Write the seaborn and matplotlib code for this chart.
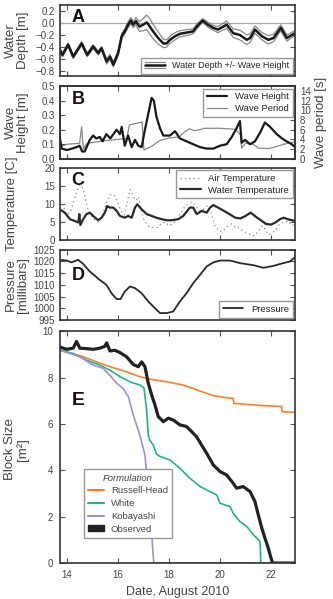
import numpy as np
import pandas as pd
import matplotlib
matplotlib.use("Agg")
import matplotlib.pyplot as plt
from matplotlib.lines import Line2D
from matplotlib.patches import Patch
from matplotlib.legend_handler import HandlerBase
import seaborn as sns

# ---------------- data (days in August 2010) ----------------
days_depth = [13.73, 13.83, 14.05, 14.25, 14.58, 14.80, 15.03, 15.23, 15.36, 15.56,
              15.69, 15.82, 16.01, 16.15, 16.27, 16.40, 16.51, 16.60, 16.71, 16.84,
              16.99, 17.13, 17.25, 17.38, 17.58, 17.78, 17.91, 18.04, 18.24, 18.43,
              18.69, 18.95, 19.09, 19.32, 19.53, 19.73, 19.92, 20.26, 20.52, 20.78,
              21.05, 21.18, 21.37, 21.64, 21.89, 22.10, 22.38, 22.62, 22.94]
water_depth = [-0.45, -0.53, -0.36, -0.56, -0.34, -0.53, -0.39, -0.50, -0.42, -0.64,
               -0.56, -0.69, -0.50, -0.22, -0.14, -0.03, 0.04, -0.03, 0.03, -0.06,
               -0.03, 0.01, -0.06, -0.14, -0.25, -0.34, -0.34, -0.28, -0.22, -0.18,
               -0.16, -0.14, -0.06, 0.04, -0.03, -0.08, -0.11, -0.03, -0.17, -0.20,
               -0.28, -0.25, -0.11, -0.22, -0.28, -0.25, -0.08, -0.25, -0.17]
depth_spread = [0.03, 0.03, 0.03, 0.03, 0.03, 0.03, 0.03, 0.03, 0.03, 0.04,
                0.04, 0.04, 0.04, 0.04, 0.04, 0.05, 0.05, 0.05, 0.06, 0.08,
                0.10, 0.12, 0.13, 0.12, 0.10, 0.07, 0.06, 0.06, 0.06, 0.05,
                0.05, 0.04, 0.04, 0.03, 0.04, 0.04, 0.05, 0.06, 0.07, 0.08,
                0.08, 0.07, 0.06, 0.06, 0.07, 0.06, 0.05, 0.05, 0.04]

days_wave = [13.73, 13.80, 14.00, 14.20, 14.38, 14.50, 14.60, 14.70, 14.90, 15.03,
             15.15, 15.29, 15.40, 15.55, 15.70, 15.95, 16.08, 16.15, 16.27, 16.40,
             16.54, 16.67, 16.80, 16.93, 17.06, 17.19, 17.32, 17.41, 17.51, 17.65,
             17.78, 18.04, 18.24, 18.43, 18.69, 18.95, 19.22, 19.48, 19.74, 20.00,
             20.26, 20.46, 20.65, 20.78, 20.85, 20.98, 21.18, 21.37, 21.57, 21.76,
             21.96, 22.22, 22.43, 22.61, 22.81, 22.94]
wave_height = [0.14, 0.07, 0.06, 0.07, 0.08, 0.09, 0.05, 0.05, 0.13, 0.16,
               0.14, 0.15, 0.12, 0.17, 0.14, 0.20, 0.17, 0.22, 0.09, 0.16,
               0.08, 0.13, 0.09, 0.08, 0.20, 0.31, 0.42, 0.40, 0.29, 0.21,
               0.16, 0.16, 0.19, 0.14, 0.12, 0.10, 0.08, 0.07, 0.07, 0.09,
               0.10, 0.15, 0.21, 0.26, 0.11, 0.13, 0.10, 0.12, 0.18, 0.25,
               0.22, 0.17, 0.14, 0.12, 0.10, 0.08]

days_period = [13.73, 14.00, 14.50, 14.58, 14.65, 14.80, 15.20, 15.60, 16.00, 16.35,
               16.45, 16.70, 16.95, 17.02, 17.30, 17.65, 18.00, 18.40, 18.60, 18.80,
               19.00, 19.20, 19.40, 20.00, 20.60, 20.80, 20.85, 21.00, 21.30, 21.50,
               21.90, 22.20, 22.50, 22.94]
wave_period = [2.5, 3.0, 3.2, 6.6, 2.0, 3.2, 3.5, 3.8, 4.0, 4.2,
               7.0, 7.3, 7.6, 1.8, 2.5, 3.8, 4.3, 4.5, 5.5, 6.2,
               5.8, 6.0, 6.3, 6.3, 6.1, 5.0, 2.2, 3.2, 3.0, 2.2,
               2.1, 2.5, 3.0, 3.5]

days_air = [13.73, 13.85, 14.00, 14.15, 14.30, 14.42, 14.55, 14.68, 14.80, 14.95,
            15.10, 15.25, 15.40, 15.55, 15.70, 15.85, 16.00, 16.12, 16.25, 16.38,
            16.48, 16.58, 16.70, 16.80, 16.90, 17.00, 17.12, 17.25, 17.40, 17.55,
            17.70, 17.85, 18.00, 18.15, 18.30, 18.45, 18.60, 18.75, 18.90, 19.05,
            19.20, 19.35, 19.50, 19.65, 19.80, 19.95, 20.10, 20.25, 20.45, 20.60,
            20.75, 20.90, 21.05, 21.20, 21.35, 21.50, 21.65, 21.78, 21.90, 22.05,
            22.20, 22.35, 22.50, 22.68, 22.80, 22.94]
air_temp = [11.0, 9.5, 7.0, 8.0, 11.5, 14.0, 16.0, 13.0, 9.0, 7.0,
            5.5, 5.0, 7.0, 10.5, 12.5, 12.5, 10.5, 8.0, 7.0, 11.0,
            14.0, 12.5, 11.0, 12.0, 9.0, 6.0, 4.5, 3.5, 3.5, 3.5,
            4.5, 5.0, 4.0, 4.5, 5.5, 7.5, 9.0, 10.0, 10.5, 9.5,
            8.0, 8.5, 9.5, 7.5, 4.0, 2.5, 2.5, 3.5, 4.5, 3.5,
            3.5, 2.5, 2.0, 1.5, 1.2, 2.5, 4.0, 3.0, 1.5, 2.0,
            3.0, 4.5, 5.0, 5.3, 4.0, 4.5]

days_water = [13.73, 13.92, 14.12, 14.31, 14.45, 14.49, 14.53, 14.64, 14.77, 14.90,
              15.03, 15.23, 15.36, 15.49, 15.58, 15.69, 15.82, 15.95, 16.08, 16.27,
              16.40, 16.54, 16.67, 16.76, 16.93, 17.13, 17.32, 17.51, 17.71, 17.91,
              18.10, 18.37, 18.56, 18.82, 18.95, 19.09, 19.28, 19.48, 19.61, 19.74,
              20.00, 20.30, 20.60, 20.80, 21.00, 21.20, 21.40, 21.60, 21.80, 22.00,
              22.20, 22.35, 22.50, 22.70, 22.94]
water_temp = [8.5, 7.6, 5.8, 5.3, 4.9, 7.2, 4.2, 5.8, 7.2, 7.6,
              6.7, 5.5, 6.2, 7.6, 9.4, 9.0, 9.0, 8.1, 6.7, 6.2,
              6.7, 6.2, 9.0, 9.9, 8.5, 7.2, 6.7, 6.2, 5.8, 5.5,
              5.5, 5.8, 6.7, 9.0, 9.0, 7.2, 8.1, 7.6, 9.0, 9.7,
              8.7, 7.5, 6.2, 6.0, 6.7, 7.6, 6.5, 5.5, 4.5, 4.3,
              5.0, 5.8, 6.2, 5.7, 5.3]

days_pressure = [13.73, 13.99, 14.18, 14.44, 14.64, 14.90, 15.29, 15.55, 15.75, 15.95,
                 16.10, 16.27, 16.47, 16.67, 16.93, 17.19, 17.45, 17.65, 17.91, 18.17,
                 18.43, 18.69, 18.95, 19.22, 19.48, 19.74, 20.00, 20.39, 20.78, 21.31,
                 21.70, 22.09, 22.48, 22.75, 22.94]
pressure = [1020.7, 1020.4, 1019.6, 1020.7, 1019.0, 1015.7, 1012.1, 1010.0, 1006.4, 1003.9,
            1003.9, 1007.1, 1009.3, 1008.6, 1006.4, 1002.9, 1000.0, 997.9, 997.9, 998.6,
            1002.9, 1006.4, 1010.7, 1014.3, 1017.9, 1019.6, 1020.4, 1020.4, 1019.3, 1018.4,
            1017.3, 1018.1, 1019.3, 1020.0, 1021.9]

days_obs = [13.73, 13.99, 14.25, 14.38, 14.51, 14.77, 15.03, 15.29, 15.49, 15.56,
            15.69, 15.88, 16.08, 16.34, 16.60, 16.80, 16.93, 17.06, 17.19, 17.32,
            17.45, 17.58, 17.78, 17.98, 18.17, 18.43, 18.69, 18.89, 19.08, 19.28,
            19.48, 19.74, 20.00, 20.26, 20.52, 20.65, 20.91, 21.18, 21.37, 21.50,
            21.64, 21.76, 21.89, 21.98, 22.06, 22.94]
observed = [9.32, 9.22, 9.27, 9.56, 9.27, 9.25, 9.22, 9.27, 9.35, 9.50,
            9.15, 9.18, 9.08, 8.90, 8.57, 8.47, 8.68, 8.47, 7.76, 7.26,
            6.83, 6.32, 6.10, 6.25, 6.17, 5.96, 5.89, 5.67, 5.45, 5.09,
            4.73, 4.23, 3.95, 3.80, 3.44, 3.23, 3.30, 3.08, 2.65, 2.08,
            1.50, 1.08, 0.65, 0.29, 0.00, 0.00]

days_white = [13.73, 14.25, 14.77, 15.29, 15.69, 16.08, 16.47, 16.86, 17.02, 17.12,
              17.19, 17.25, 17.38, 17.51, 17.65, 18.04, 18.43, 18.82, 19.22, 19.61,
              19.87, 20.00, 20.39, 20.52, 20.78, 21.05, 21.31, 21.57, 21.60, 22.94]
white = [9.18, 9.04, 8.75, 8.54, 8.32, 8.04, 7.82, 7.68, 7.56, 6.68,
         5.53, 5.30, 5.10, 4.70, 4.60, 4.45, 4.09, 3.66, 3.30, 3.08,
         2.94, 2.58, 2.44, 2.15, 1.79, 1.58, 1.22, 0.93, 0.00, 0.00]

days_koba = [13.73, 14.51, 15.03, 15.42, 15.69, 15.95, 16.21, 16.41, 16.60, 16.73,
             16.86, 16.96, 17.06, 17.12, 17.19, 17.25, 17.32, 17.38, 17.41, 22.94]
kobayashi = [9.18, 8.90, 8.54, 8.40, 8.10, 7.76, 7.53, 7.18, 6.39, 5.96,
             5.53, 5.10, 4.66, 3.95, 3.23, 2.37, 1.36, 0.36, 0.00, 0.00]

days_rh = [13.73, 14.64, 15.16, 15.69, 16.34, 16.86, 17.25, 17.91, 18.56, 19.22,
           19.74, 20.26, 20.52, 20.54, 21.31, 22.42, 22.44, 22.94]
russell_head = [9.18, 8.90, 8.68, 8.47, 8.25, 8.04, 7.93, 7.82, 7.68, 7.42,
                7.22, 7.13, 7.10, 6.89, 6.82, 6.75, 6.53, 6.50]

x_ticks = [14, 16, 18, 20, 22]

# ---------------- styling ----------------
sns.set_theme(style="ticks")
plt.rcParams["font.family"] = ["Liberation Sans", "DejaVu Sans"]
plt.rcParams.update({
    "xtick.direction": "in", "ytick.direction": "in",
    "xtick.top": True, "ytick.right": True,
    "xtick.major.size": 3.5, "ytick.major.size": 3.5,
    "xtick.major.width": 0.8, "ytick.major.width": 0.8,
    "xtick.labelsize": 7, "ytick.labelsize": 7,
    "xtick.color": "#555555", "ytick.color": "#555555",
    "xtick.labelcolor": "#444444", "ytick.labelcolor": "#444444",
    "axes.edgecolor": "#333333", "axes.linewidth": 1.2,
    "axes.labelcolor": "#444444", "axes.labelsize": 9.5,
    "legend.fontsize": 6.8, "legend.frameon": True,
    "legend.fancybox": False, "legend.edgecolor": "#999999",
    "legend.framealpha": 1.0,
})

fig = plt.figure(figsize=(3.33, 5.99), dpi=100)
L, W = 0.180, 0.706
axA = fig.add_axes([L, 0.873, W, 0.119])
axB = fig.add_axes([L, 0.735, W, 0.121])
axC = fig.add_axes([L, 0.599, W, 0.121])
axD = fig.add_axes([L, 0.466, W, 0.117])
axE = fig.add_axes([L, 0.060, W, 0.387])

XLIM = (13.73, 22.94)
for ax in (axA, axB, axC, axD, axE):
    ax.set_xlim(*XLIM)
    ax.set_xticks(x_ticks)
for ax in (axA, axB, axC, axD):
    ax.set_xticklabels([])


def place_ylabel(ax, right_px, y=0.5):
    """Put the right edge of the y label at a given pixel column."""
    ax.yaxis.set_label_coords((right_px - 60.0) / 235.0, y)


def panel_letter(ax, letter, y=0.82):
    ax.text(0.05, y, letter, transform=ax.transAxes, fontsize=13,
            fontweight="bold", color="#1a1010", va="center", ha="left")


class BandHandler(HandlerBase):
    """Legend key: thin grey line, thick black line, thin grey line."""
    def create_artists(self, legend, orig_handle, xdescent, ydescent,
                       width, height, fontsize, trans):
        yc = height / 2 - ydescent
        off = height * 0.42
        arts = []
        for dy, c, lw in ((off, "#888888", 0.9), (0, "#1a1a1a", 1.8), (-off, "#888888", 0.9)):
            arts.append(Line2D([0, width], [yc + dy, yc + dy], color=c, lw=lw,
                               transform=trans))
        return arts


# ---------------- A: water depth ----------------
df_a = pd.DataFrame({"day": days_depth, "depth": water_depth, "spread": depth_spread})
df_a["upper"] = df_a["depth"] + df_a["spread"]
df_a["lower"] = df_a["depth"] - df_a["spread"]
axA.axhline(0, color="#aaaaaa", lw=0.9, zorder=1)
sns.lineplot(data=df_a, x="day", y="upper", ax=axA, color="#888888", lw=0.9)
sns.lineplot(data=df_a, x="day", y="lower", ax=axA, color="#888888", lw=0.9)
sns.lineplot(data=df_a, x="day", y="depth", ax=axA, color="#1a1a1a", lw=1.8)
axA.set_ylim(-0.88, 0.30)
axA.set_yticks([0.2, 0.0, -0.2, -0.4, -0.6, -0.8])
axA.set_yticklabels(["0.2", "0.0", "\u22120.2", "\u22120.4", "\u22120.6", "\u22120.8"])
axA.set_xlabel("")
axA.set_ylabel("Water\nDepth [m]", linespacing=1.0)
place_ylabel(axA, 29)
panel_letter(axA, "A")
axA.legend([object()], ["Water Depth +/- Wave Height"], handler_map={object: BandHandler()},
           loc="lower right", handlelength=2.2, borderpad=0.4, borderaxespad=0.25,
           fontsize=6.5)

# ---------------- B: waves ----------------
axB2 = axB.twinx()
axB.tick_params(right=False)
df_h = pd.DataFrame({"day": days_wave, "height": wave_height})
df_p = pd.DataFrame({"day": days_period, "period": wave_period})
sns.lineplot(data=df_p, x="day", y="period", ax=axB2, color="#888888", lw=0.9)
sns.lineplot(data=df_h, x="day", y="height", ax=axB, color="#1a1a1a", lw=1.6)
axB.set_zorder(axB2.get_zorder() + 1)
axB.patch.set_visible(False)
axB.set_ylim(0, 0.5)
axB.set_yticks([0.0, 0.1, 0.2, 0.3, 0.4, 0.5])
axB2.set_ylim(0, 15)
axB2.set_yticks(range(0, 15, 2))
axB2.tick_params(axis="y", direction="in", labelsize=7)
axB.set_xlabel("")
axB2.set_xlabel("")
axB.set_ylabel("Wave\nHeight [m]", linespacing=1.0)
place_ylabel(axB, 29)
axB2.set_ylabel("Wave period [s]", fontsize=9.5, labelpad=3)
panel_letter(axB, "B")
hB = [Line2D([], [], color="#1a1a1a", lw=1.6), Line2D([], [], color="#888888", lw=0.9)]
axB.legend(hB, ["Wave Height", "Wave Period"], loc="upper right",
           handlelength=2.2, borderpad=0.4, borderaxespad=0.25, labelspacing=0.3)

# ---------------- C: temperature ----------------
df_air = pd.DataFrame({"day": days_air, "temp": air_temp})
df_wat = pd.DataFrame({"day": days_water, "temp": water_temp})
sns.lineplot(data=df_air, x="day", y="temp", ax=axC, color="#888888", lw=0.9,
             linestyle=(0, (1, 2.5)))
sns.lineplot(data=df_wat, x="day", y="temp", ax=axC, color="#2a2a2a", lw=1.6)
axC.set_ylim(0, 20)
axC.set_yticks([0, 5, 10, 15, 20])
axC.set_xlabel("")
axC.set_ylabel("Temperature [C]")
place_ylabel(axC, 18)
panel_letter(axC, "C")
hC = [Line2D([], [], color="#888888", lw=0.9, linestyle=(0, (1, 2.5))),
      Line2D([], [], color="#2a2a2a", lw=1.6)]
axC.legend(hC, ["Air Temperature", "Water Temperature"], loc="upper right",
           handlelength=2.2, borderpad=0.4, borderaxespad=0.25, labelspacing=0.3)

# ---------------- D: pressure ----------------
df_pr = pd.DataFrame({"day": days_pressure, "pressure": pressure})
sns.lineplot(data=df_pr, x="day", y="pressure", ax=axD, color="#2a2a2a", lw=1.3)
axD.set_ylim(995, 1025)
axD.set_yticks(range(995, 1026, 5))
axD.set_xlabel("")
axD.set_ylabel("Pressure\n[millibars]", linespacing=1.0)
place_ylabel(axD, 29)
panel_letter(axD, "D", y=0.64)
axD.legend([Line2D([], [], color="#2a2a2a", lw=1.3)], ["Pressure"], loc="lower right",
           handlelength=2.2, borderpad=0.4, borderaxespad=0.25)

# ---------------- E: block size ----------------
colors = {"Russell-Head": "#f7812b", "White": "#20b388", "Kobayashi": "#9e90d2",
          "Observed": "#222222"}
sns.lineplot(x=days_rh, y=russell_head, ax=axE, color=colors["Russell-Head"], lw=1.2)
sns.lineplot(x=days_white, y=white, ax=axE, color=colors["White"], lw=1.2)
sns.lineplot(x=days_koba, y=kobayashi, ax=axE, color=colors["Kobayashi"], lw=1.2)
sns.lineplot(x=days_obs, y=observed, ax=axE, color=colors["Observed"], lw=2.3)
axE.set_ylim(0, 10)
axE.set_yticks([0, 2, 4, 6, 8, 10])
axE.set_xticklabels([str(t) for t in x_ticks])
axE.set_xlabel("Date, August 2010", labelpad=4, fontsize=9)
axE.set_ylabel("Block Size\n[m\u00b2]", linespacing=1.0)
place_ylabel(axE, 29, y=0.49)
axE.tick_params(axis="both", pad=5)
axE.text(0.05, 0.70, "E", transform=axE.transAxes, fontsize=14,
         fontweight="bold", color="#1a1010", va="center", ha="left")
hE = [Line2D([], [], color=colors["Russell-Head"], lw=1.5),
      Line2D([], [], color=colors["White"], lw=1.5),
      Line2D([], [], color=colors["Kobayashi"], lw=1.5),
      Patch(facecolor=colors["Observed"], edgecolor=colors["Observed"])]
legE = axE.legend(hE, ["Russell-Head", "White", "Kobayashi", "Observed"],
                  title="Formulation", loc="lower left", bbox_to_anchor=(0.102, 0.108),
                  borderaxespad=0.0, handlelength=1.7, handleheight=0.6, borderpad=0.45,
                  labelspacing=0.4, handletextpad=0.7, fontsize=6.8, title_fontsize=6.8)
legE.get_title().set_fontstyle("italic")
legE.get_title().set_color("#444444")
for t in legE.get_texts():
    t.set_color("#444444")

fig.savefig("out.png", dpi=100)
